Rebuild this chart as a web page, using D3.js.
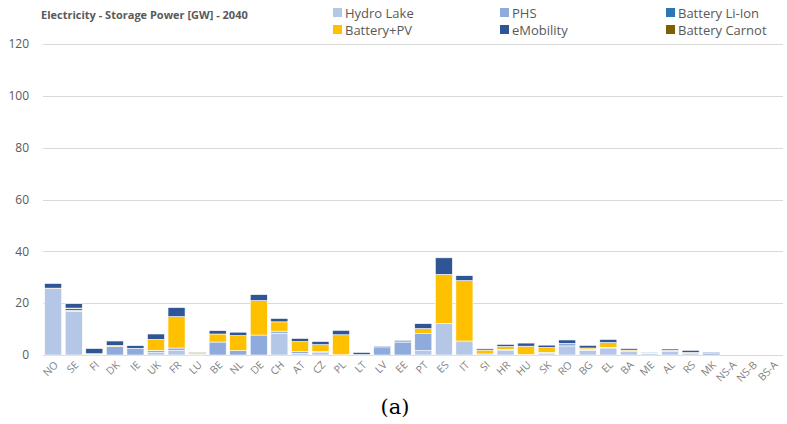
<!DOCTYPE html>
<meta charset="utf-8">
<style>
body { margin: 0; background: #fff; }
text { font-family: "Open Sans", "Liberation Sans", sans-serif; fill: #595959; }
.grid line { stroke: #d9d9d9; stroke-width: 1px; }
</style>
<body>
<svg width="787" height="424"></svg>
<script src="https://cdnjs.cloudflare.com/ajax/libs/d3/7.8.5/d3.min.js"></script>
<script>

var countries = ["NO","SE","FI","DK","IE","UK","FR","LU","BE","NL","DE","CH","AT","CZ","PL","LT","LV","EE","PT","ES","IT","SI","HR","HU","SK","RO","BG","EL","BA","ME","AL","RS","MK","NS-A","NS-B","BS-A"];

var seriesNames = ["Hydro Lake","PHS","Battery Li-Ion","Battery+PV","eMobility","Battery Carnot"];
var seriesColors = ["#b4c7e7","#8faadc","#2e75b6","#ffc000","#2f5597","#7f6000"];

var hydroLake = [25.7,16.9,0.3,0,0,0.9,1.7,0,0,0,0,8.4,0.6,0.9,0,0,0,0,1.7,12.2,5.4,0,1.9,0,0.6,3.5,1.8,2.7,1.5,0.5,1.5,0.5,0,0,0,0];
var phs       = [0,0.3,0,3.3,2.6,0.9,1.0,0.3,5.0,1.7,7.7,0.8,0.7,0.4,0.1,0.2,2.8,5.0,6.6,0,0,0.4,0.2,0.2,0.4,1.0,0.3,0.3,0,0.3,0,0,0.6,0,0,0];
var liIon     = [0,0.7,0,0,0,0,0,0,0,0,0,0,0,0,0,0,0,0.1,0,0,0,0,0,0,0,0,0,0,0,0,0,0,0,0,0,0];
var batteryPV = [0.1,0.2,0.2,0.4,0,4.2,12.1,0.3,3.1,5.8,13.3,3.6,3.9,2.7,7.7,0,0,0,1.9,18.9,23.3,1.5,1.2,3.2,1.9,0,0.6,1.8,0.4,0,0.3,0.5,0,0,0,0];
var eMobility = [1.8,1.7,2.0,1.7,1.0,2.1,3.5,0.4,1.3,1.3,2.3,1.3,1.2,1.2,1.7,0.8,0.5,0.5,1.9,6.4,1.9,0.5,0.8,1.2,0.9,1.3,1.0,1.2,0.6,0.3,0.5,0.8,0.4,0,0,0];
var carnot    = [0,0,0,0,0,0,0,0.1,0,0,0,0,0,0,0,0,0,0,0,0,0.1,0,0,0,0,0,0,0,0,0,0,0,0,0,0,0];

var yTicks = [0,20,40,60,80,100,120];

var table = countries.map(function(c, i) {
  return {
    country: c,
    "Hydro Lake": hydroLake[i],
    "PHS": phs[i],
    "Battery Li-Ion": liIon[i],
    "Battery+PV": batteryPV[i],
    "eMobility": eMobility[i],
    "Battery Carnot": carnot[i]
  };
});

var svg = d3.select("svg");
var margin = {left: 43, right: 4, top: 44, bottom: 69};
var width = 787 - margin.left - margin.right;
var height = 424 - margin.top - margin.bottom;

var x = d3.scaleBand().domain(countries).range([margin.left, margin.left + width]).paddingInner(0.17).paddingOuter(0.08);
var y = d3.scaleLinear().domain([0, 120]).range([margin.top + height, margin.top]);

// gridlines
svg.append("g").attr("class", "grid")
  .selectAll("line").data(yTicks).enter().append("line")
  .attr("x1", margin.left).attr("x2", margin.left + width)
  .attr("y1", function(d) { return Math.round(y(d)) + 0.5; })
  .attr("y2", function(d) { return Math.round(y(d)) + 0.5; });

// y labels
svg.append("g").selectAll("text").data(yTicks).enter().append("text")
  .attr("x", 29).attr("y", function(d) { return y(d); })
  .attr("dy", "0.35em").attr("text-anchor", "end")
  .style("font-size", "12px")
  .text(function(d) { return d; });

var stack = d3.stack().keys(seriesNames);
var layers = stack(table);

svg.append("g").selectAll("g").data(layers).enter().append("g")
  .attr("fill", function(d, i) { return seriesColors[i]; })
  .selectAll("rect").data(function(d) { return d; }).enter().append("rect")
  .filter(function(d) { return d[1] - d[0] > 0; })
  .attr("x", function(d) { return x(d.data.country); })
  .attr("width", x.bandwidth())
  .attr("y", function(d) { return y(d[1]); })
  .attr("height", function(d) { return y(d[0]) - y(d[1]); })
  .attr("stroke", "#fff").attr("stroke-width", 0.6);

// x labels
svg.append("g").selectAll("text").data(countries).enter().append("text")
  .attr("transform", function(d) {
    return "translate(" + (x(d) + x.bandwidth() / 2 + 3) + "," + (margin.top + height + 8) + ") rotate(-45)";
  })
  .attr("text-anchor", "end")
  .attr("dy", "0.35em")
  .style("font-size", "10.5px")
  .style("fill", "#7f7f7f")
  .text(function(d) { return d; });

// title
svg.append("text").attr("x", 41).attr("y", 19)
  .style("font-size", "11px").style("font-weight", "bold")
  .text("Electricity - Storage Power [GW] - 2040");

// legend (3 columns, 2 rows)
var legCols = [333, 500, 666];
var legRows = [13, 30];
var leg = svg.append("g").selectAll("g").data(seriesNames).enter().append("g")
  .attr("transform", function(d, i) {
    return "translate(" + legCols[i % 3] + "," + legRows[Math.floor(i / 3)] + ")";
  });
leg.append("rect").attr("x", 0).attr("y", -5).attr("width", 9).attr("height", 9)
  .attr("fill", function(d, i) { return seriesColors[i]; });
leg.append("text").attr("x", 12).attr("y", 0).attr("dy", "0.35em")
  .style("font-size", "13px")
  .text(function(d) { return d; });

// caption
svg.append("text").attr("x", 395).attr("y", 414)
  .attr("text-anchor", "middle")
  .style("font-family", "'DejaVu Serif', 'Liberation Serif', serif")
  .style("font-size", "21px").style("fill", "#000")
  .text("(a)");

</script>
</body>
